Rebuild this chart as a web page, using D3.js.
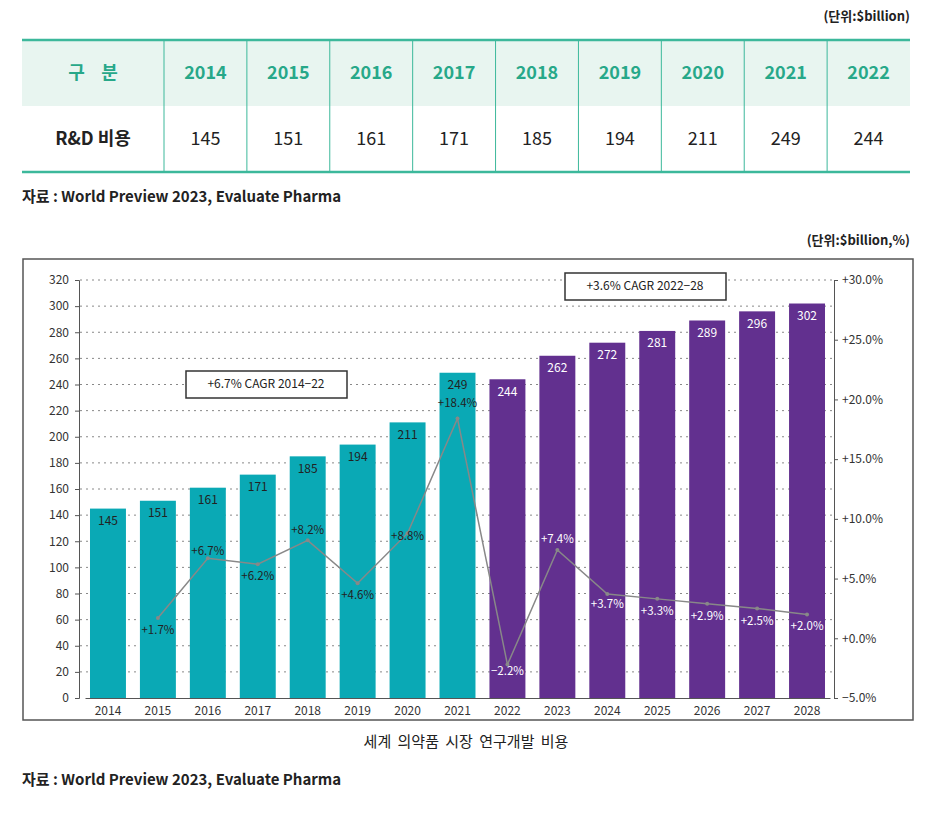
<!DOCTYPE html>
<html><head><meta charset="utf-8">
<script src="https://cdn.jsdelivr.net/npm/d3@7"></script>
<style>body{margin:0;background:#fff;}</style>
</head><body><svg id="c" width="941" height="814"></svg>
<script>
const tableYears = ["2014","2015","2016","2017","2018","2019","2020","2021","2022"];
const tableValues = [145,151,161,171,185,194,211,249,244];
const years = ["2014","2015","2016","2017","2018","2019","2020","2021","2022","2023","2024","2025","2026","2027","2028"];
const spend = [145,151,161,171,185,194,211,249,244,262,272,281,289,296,302];
const growthYears = ["2015","2016","2017","2018","2019","2020","2021","2022","2023","2024","2025","2026","2027","2028"];
const growth = [1.7,6.7,6.2,8.2,4.6,8.8,18.4,-2.2,7.4,3.7,3.3,2.9,2.5,2.0];
const labelOffset = [13,-6,13,-9,13,4,-15,7,-10,11,13,13,13,12];
const leftTicks = d3.range(0,321,20);
const rightTicks = [-5,0,5,10,15,20,25,30];

const svg = d3.select("#c");
const F = "'Noto Sans CJK KR','Noto Sans',sans-serif";
const teal = "#3cb89b";
function txt(x,y,s,size,opts){
  opts=opts||{};
  return svg.append("text").attr("x",x).attr("y",y).attr("text-anchor",opts.anchor||"start")
    .attr("font-size",size).attr("font-weight",opts.bold?"bold":"normal")
    .attr("fill",opts.fill||"#222").attr("font-family",F).attr("dominant-baseline","middle").text(s);
}
// table
txt(910,17,"(단위:$billion)",13,{anchor:"end",bold:true});
const colX = d3.scaleBand().domain(tableYears).range([164,910]);
svg.append("rect").attr("x",22).attr("y",41).attr("width",888).attr("height",65).attr("fill","#e8f5f0");
svg.append("line").attr("x1",22).attr("x2",910).attr("y1",40).attr("y2",40).attr("stroke",teal).attr("stroke-width",2.5);
svg.append("line").attr("x1",22).attr("x2",910).attr("y1",172).attr("y2",172).attr("stroke",teal).attr("stroke-width",2.5);
tableYears.forEach((y,i)=>{
  const x0=colX(y);
  svg.append("line").attr("x1",x0).attr("x2",x0).attr("y1",40).attr("y2",172).attr("stroke",teal).attr("stroke-width",1);
  txt(x0+colX.bandwidth()/2,74,y,18,{anchor:"middle",bold:true,fill:"#27a889"});
  txt(x0+colX.bandwidth()/2,140,tableValues[i],18,{anchor:"middle"});
});
txt(93,74,"구    분",18,{anchor:"middle",bold:true,fill:"#27a889"}).attr("xml:space","preserve");
txt(93,140,"R&D 비용",18,{anchor:"middle",bold:true});
txt(22,198,"자료 : World Preview 2023, Evaluate Pharma",15,{bold:false}).attr("font-weight","600");
txt(910,241,"(단위:$billion,%)",13,{anchor:"end",bold:true});

// chart frame
svg.append("rect").attr("x",23).attr("y",259).attr("width",890).attr("height",461).attr("fill","none").attr("stroke","#555").attr("stroke-width",1.5);

const x = d3.scaleBand().domain(years).range([85,830]).paddingInner(0.28).paddingOuter(0.1);
const yL = d3.scaleLinear().domain([0,320]).range([698,280]);
const yR = d3.scaleLinear().domain([-5,30]).range([698,280]);

// grid
svg.append("g").selectAll("line").data(leftTicks.filter(d=>d>0)).join("line")
  .attr("x1",80).attr("x2",834).attr("y1",d=>yL(d)).attr("y2",d=>yL(d))
  .attr("stroke","#888").attr("stroke-dasharray","2,4").attr("stroke-width",1);

// axes
const gL = svg.append("g").attr("transform","translate(79,0)").call(d3.axisLeft(yL).tickValues(leftTicks).tickSize(4).tickPadding(6));
const gR = svg.append("g").attr("transform","translate(834,0)").call(d3.axisRight(yR).tickValues(rightTicks).tickSize(4).tickPadding(4).tickFormat(d=>(d<0?"−":"+")+Math.abs(d).toFixed(1)+"%"));
const gB = svg.append("g").attr("transform","translate(0,698)").call(d3.axisBottom(x).tickSize(0).tickPadding(8));
[gL,gR,gB].forEach(g=>{g.selectAll("text").attr("font-size",12).attr("font-family",F).attr("fill","#333");
  g.selectAll("path,line").attr("stroke","#555");});
gB.select(".domain").attr("stroke","#555");

// bars
svg.append("g").selectAll("rect").data(years).join("rect")
  .attr("x",d=>x(d)).attr("width",x.bandwidth())
  .attr("y",(d,i)=>yL(spend[i])).attr("height",(d,i)=>yL(0)-yL(spend[i]))
  .attr("fill",d=>+d<=2021?"#0aa9b5":"#62308f");
svg.append("g").selectAll("text").data(years).join("text")
  .attr("x",d=>x(d)+x.bandwidth()/2).attr("y",(d,i)=>yL(spend[i])+13)
  .attr("text-anchor","middle").attr("dominant-baseline","middle").attr("font-size",12).attr("font-family",F)
  .attr("fill",d=>+d<=2021?"#222":"#fff").text((d,i)=>spend[i]);

// line
const cx = d=>x(d)+x.bandwidth()/2;
svg.append("path").datum(growthYears).attr("fill","none").attr("stroke","#888").attr("stroke-width",1.5)
  .attr("d",d3.line().x(d=>cx(d)).y((d,i)=>yR(growth[i]))(growthYears));
svg.append("g").selectAll("circle").data(growthYears).join("circle")
  .attr("cx",cx).attr("cy",(d,i)=>yR(growth[i])).attr("r",2).attr("fill","#888");
svg.append("g").selectAll("text").data(growthYears).join("text")
  .attr("x",cx).attr("y",(d,i)=>yR(growth[i])+labelOffset[i])
  .attr("text-anchor","middle").attr("dominant-baseline","middle").attr("font-size",11.5).attr("font-family",F)
  .attr("fill",d=>+d<=2021?"#222":"#fff")
  .text((d,i)=>(growth[i]<0?"−":"+")+Math.abs(growth[i]).toFixed(1)+"%");

// CAGR boxes
svg.append("rect").attr("x",186).attr("y",371).attr("width",161).attr("height",27).attr("fill","#fff").attr("stroke","#333").attr("stroke-width",1.5);
txt(266,385,"+6.7% CAGR 2014−22",12,{anchor:"middle"});
svg.append("rect").attr("x",565).attr("y",273).attr("width",161).attr("height",27).attr("fill","#fff").attr("stroke","#333").attr("stroke-width",1.5);
txt(645,287,"+3.6% CAGR 2022−28",12,{anchor:"middle"});

txt(466,743,"세계 의약품 시장 연구개발 비용",15,{anchor:"middle"}).attr("word-spacing","3");
txt(22,781,"자료 : World Preview 2023, Evaluate Pharma",15).attr("font-weight","600");
</script></body></html>
